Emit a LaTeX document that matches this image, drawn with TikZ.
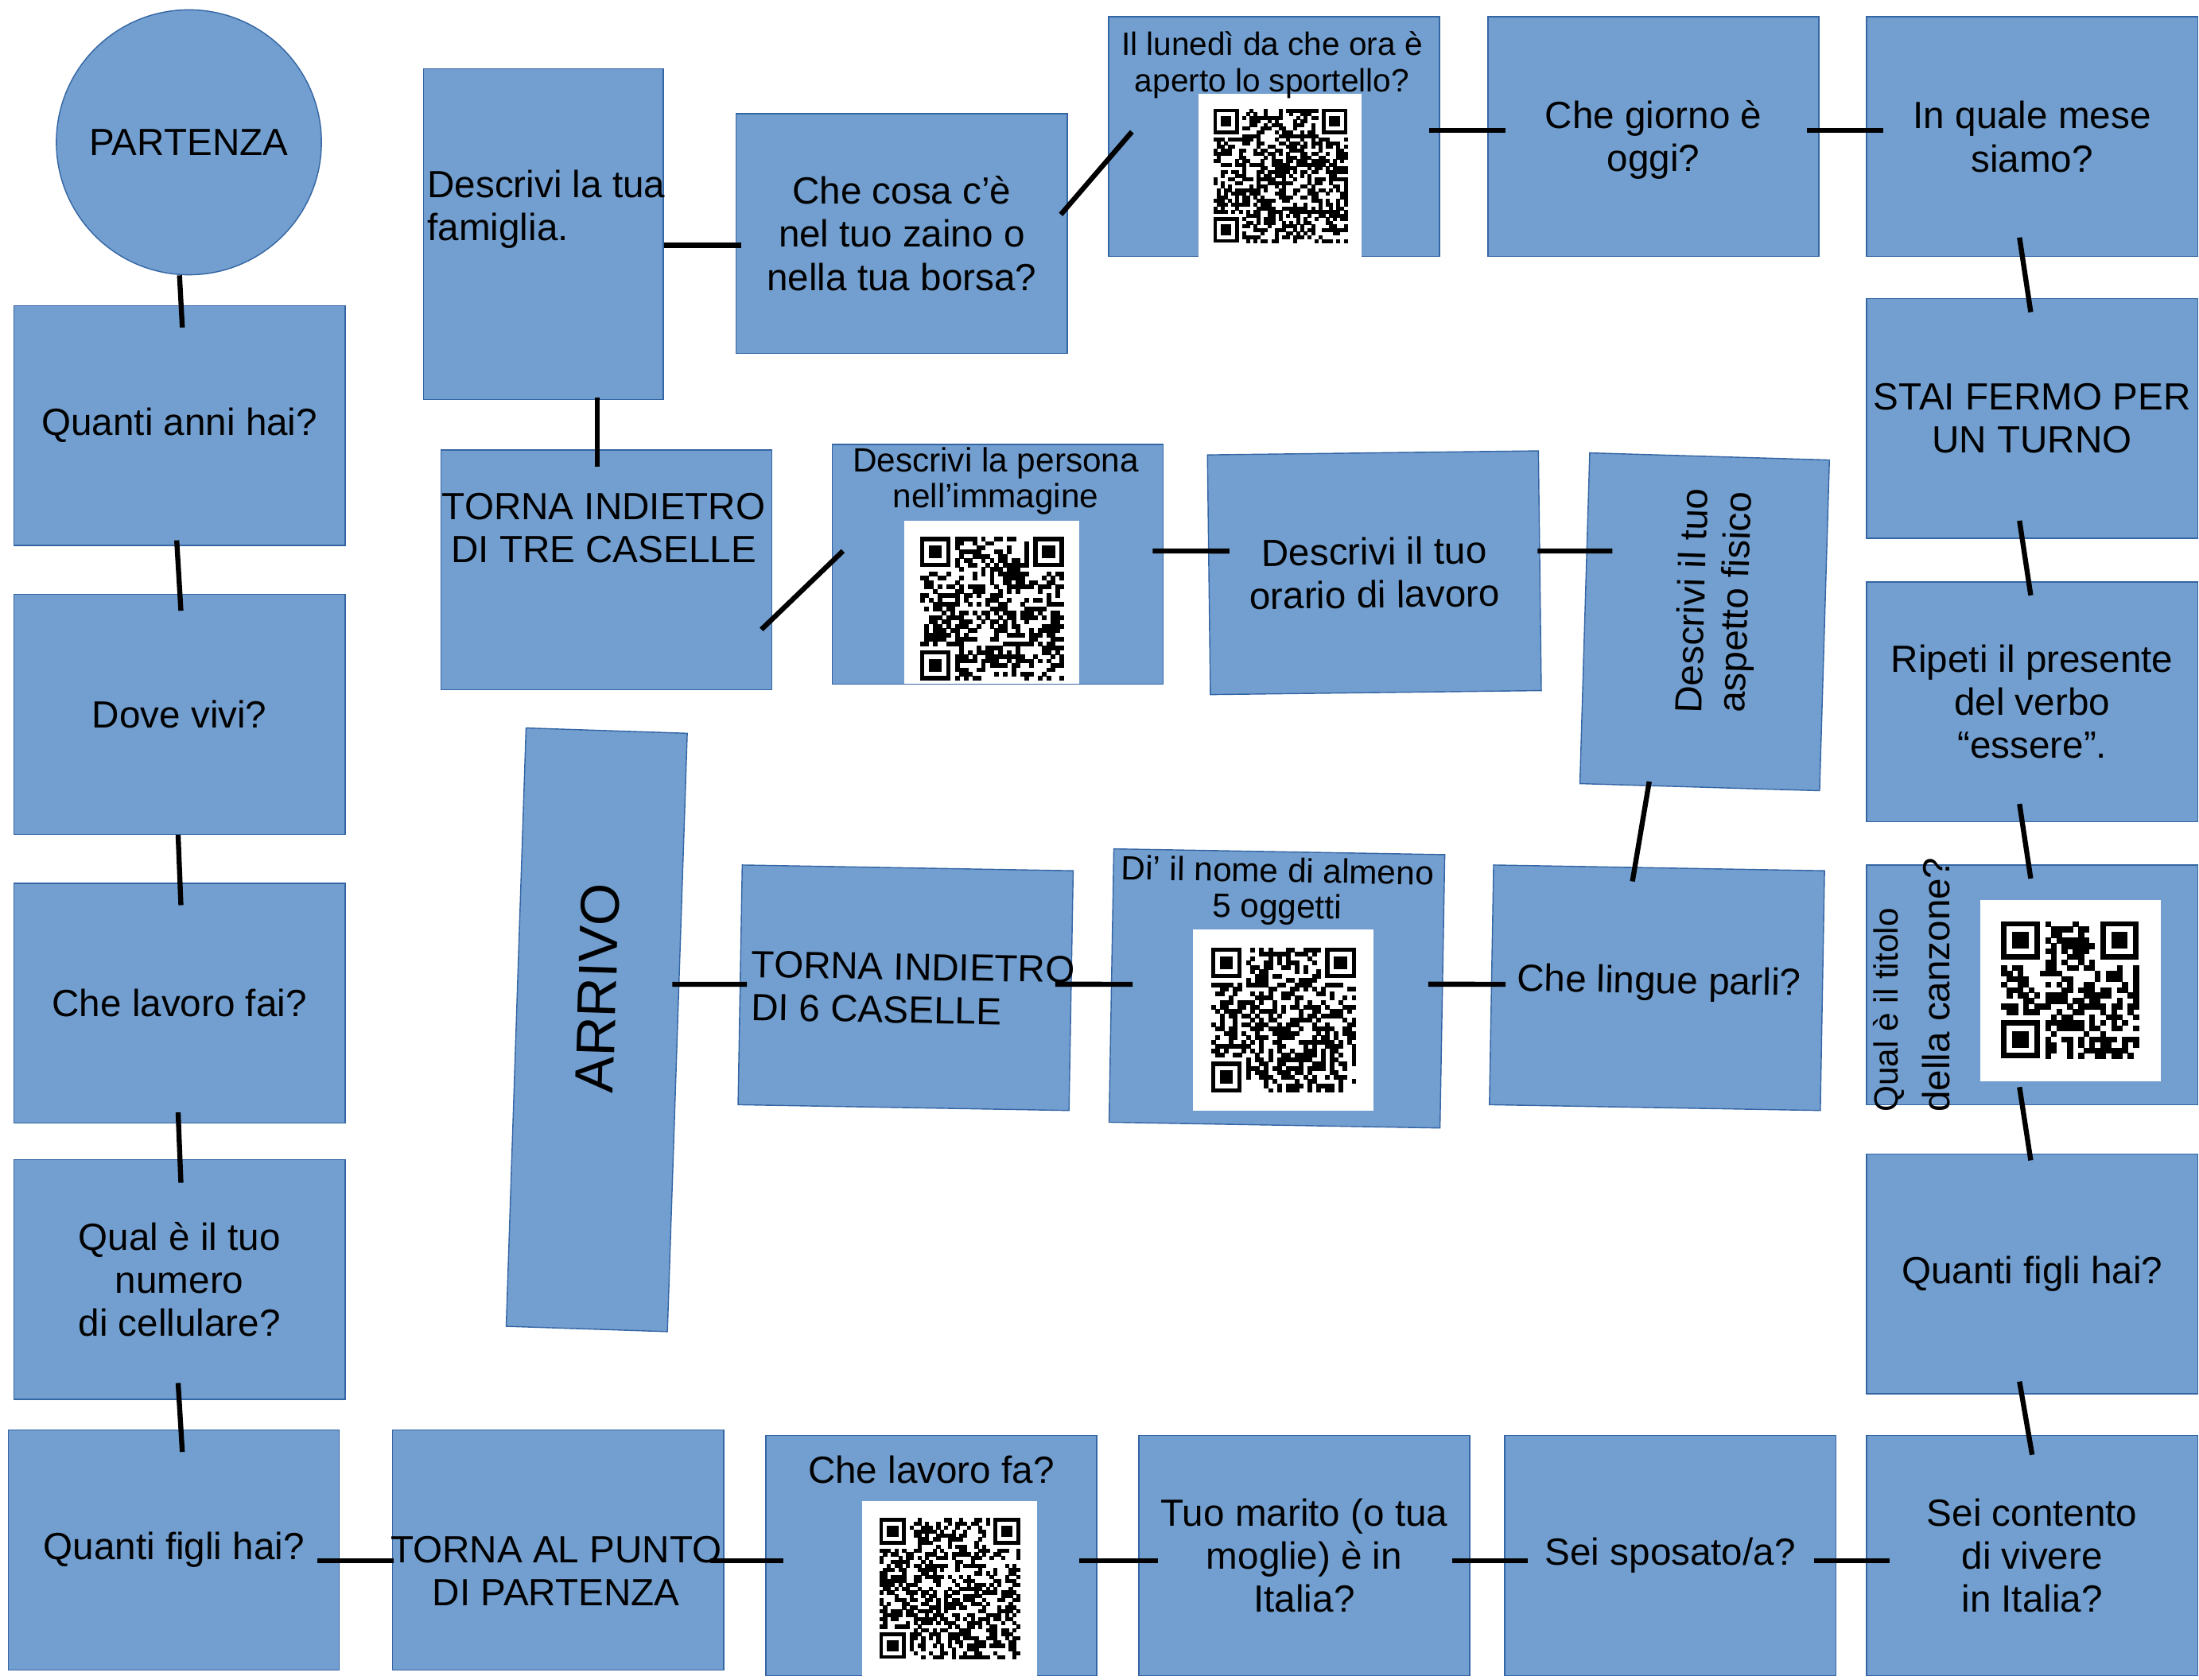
\documentclass[tikz,border=0pt]{standalone}
\usepackage{fontspec}
\setmainfont{Liberation Sans}
\usepackage{tikz}
\usetikzlibrary{positioning,calc}

\definecolor{boxfill}{HTML}{729FCF}
\definecolor{boxedge}{HTML}{3465A4}

% random QR-like patch: left, top, size, modules, seed
\newcommand\qrpatch[5]{%
  \pgfmathsetseed{#5}%
  \pgfmathsetmacro\qrm{#3/#4}%
  \pgfmathtruncatemacro\qrn{#4-1}%
  \foreach \i in {0,...,\qrn}{
    \foreach \j in {0,...,\qrn}{
      \pgfmathtruncatemacro\qrbit{(rnd<0.5)&&!(((\i<8)&&(\j<8))||((\i>\qrn-8)&&(\j<8))||((\i<8)&&(\j>\qrn-8)))}
      \ifnum\qrbit=1
        \fill (#1+\i*\qrm,#2+\j*\qrm) rectangle ++(\qrm+0.25,\qrm+0.25);
      \fi
    }
  }
  \foreach \fx/\fy in {0/0,1/0,0/1}{
    \pgfmathsetmacro\qrx{#1+\fx*(#4-7)*\qrm}
    \pgfmathsetmacro\qry{#2+\fy*(#4-7)*\qrm}
    \fill (\qrx,\qry) rectangle ++(7*\qrm,7*\qrm);
    \fill[white] (\qrx+\qrm,\qry+\qrm) rectangle ++(5*\qrm,5*\qrm);
    \fill (\qrx+2*\qrm,\qry+2*\qrm) rectangle ++(3*\qrm,3*\qrm);
  }
}

\tikzset{
  box/.style={draw=boxedge, fill=boxfill, line width=0.8pt, minimum width=236pt, minimum height=171pt,
    inner sep=0pt, align=center, font=\fontsize{27pt}{30.7pt}\selectfont},
  tall/.style={box, minimum width=171pt, minimum height=236pt},
  lab/.style={inner sep=0pt, align=center, font=\fontsize{27pt}{30.7pt}\selectfont},
  small/.style={lab, font=\fontsize{24pt}{25.5pt}\selectfont},
  link/.style={line width=3.6pt},
}

\begin{document}
\begin{tikzpicture}[x=1pt,y=-1pt]
  \useasboundingbox (0,0) rectangle (1568,1198);

  % left column
  \node[box, circle, minimum size=189pt] (partenza) at (134.7,101.5) {PARTENZA};
  \node[box] (anni) at (128,303.5) {Quanti anni hai?};
  \node[box] (dove) at (128,509.5) {Dove vivi?};
  \node[box] (lavoro) at (128,715.5) {Che lavoro fai?};
  \node[box] (cell) at (128,912.5) {Qual è il tuo\\numero\\di cellulare?};
  \node[box] (figli) at (124,1105.5) {Quanti figli hai?};

  % bottom row
  \node[box] (punto) at (398,1105.5) {};
  \node[box] (lavorofa) at (664,1109.5) {};
  \node[box] (marito) at (930,1109.5) {Tuo marito (o tua\\moglie) è in\\Italia?};
  \node[box] (sposato) at (1191,1109.5) {Sei sposato/a?};
  \node[box] (contento) at (1449,1109.5) {Sei contento\\di vivere\\in Italia?};

  % right column
  \node[box] (figlidue) at (1449,908.5) {Quanti figli hai?};
  \node[box] (titolo) at (1449,702.5) {};
  \node[box] (ripeti) at (1449,500.5) {Ripeti il presente\\del verbo\\“essere”.};
  \node[box] (fermo) at (1449,298.5) {STAI FERMO PER\\UN TURNO};
  \node[box] (mese) at (1449,97.5) {In quale mese\\siamo?};

  % top row
  \node[box] (giorno) at (1179,97.5) {};
  \node[box] (lunedi) at (908.5,97.5) {};
  \node[box] (zaino) at (643,166.5) {Che cosa c’è\\nel tuo zaino o\\nella tua borsa?};
  \node[tall] (famiglia) at (387.5,167) {};

  % middle rows
  \node[box] (tre) at (432.5,406.5) {};
  \node[box] (persona) at (711.5,402.5) {};
  \node[box, rotate=0.7] (orario) at (980,408.5) {Descrivi il tuo\\orario di lavoro};
  \node[box, rotate=88.3] (aspetto) at (1215.5,443.5) {};
  \node[box, rotate=88.1, minimum width=427pt, minimum height=115pt] (arrivo) at (425.5,734.5) {};
  \node[box, rotate=-1] (seicaselle) at (645.75,704.5) {};
  \node[box, rotate=-1, minimum height=195pt] (nome) at (910.5,705) {};
  \node[box, rotate=-1] (lingue) at (1181.5,704.5) {};

  % qr codes
  \fill[white] (854.6,66.7) rectangle (970.9,183);
  \qrpatch{865.2}{77.5}{95.5}{37}{11}
  \fill[white] (644.8,371.5) rectangle (769.6,487.7);
  \qrpatch{656}{382.8}{102.6}{33}{23}
  \fill[white] (850.6,663) rectangle (979.4,792);
  \qrpatch{863.5}{675.8}{103.4}{33}{37}
  \fill[white] (614.7,1070.5) rectangle (739.3,1195.5);
  \qrpatch{627}{1082.8}{100.4}{37}{41}
  \fill[white] (1412,642) rectangle (1541,771);
  \qrpatch{1427}{657}{98}{25}{53}

  % texts set off the centre
  \node[lab, below=76pt of punto.north, xshift=-1.5pt] (puntotxt) {TORNA AL PUNTO\\DI PARTENZA};
  \node[lab, below=14.5pt of lavorofa.north] (lavorofatxt) {Che lavoro fa?};
  \node[lab, below=60pt of giorno.north] (giornotxt) {Che giorno è\\oggi?};
  \node[lab, font=\fontsize{23pt}{26pt}\selectfont, below=10.5pt of lunedi.north, xshift=-1.5pt] (lunedittxt) {Il lunedì da che ora è\\aperto lo sportello?};
  \node[lab, align=left, below right=72.5pt and 3pt of famiglia.north west] (famigliatxt) {Descrivi la tua\\famiglia.};
  \node[lab, below=30.7pt of tre.north, xshift=-2pt] (tretxt) {TORNA INDIETRO\\DI TRE CASELLE};
  \node[small, below=2.5pt of persona.north, xshift=-1.5pt] (personatxt) {Descrivi la persona\\nell’immagine};
  \node[lab, rotate=88.3, font=\fontsize{27pt}{31pt}\selectfont] (aspettotxt) at ($(aspetto)+(8.5,-14.5)$) {Descrivi il tuo\\aspetto fisico};
  \node[lab, rotate=88.1, font=\fontsize{39pt}{45pt}\selectfont] (arrivotxt) at ($(arrivo)+(0.5,-29.5)$) {ARRIVO};
  \node[lab, align=left, anchor=west, rotate=-1] (seitxt) at ($(seicaselle.west)+(8.2,0.6)$) {TORNA INDIETRO\\DI 6 CASELLE};
  \node[small, anchor=north, rotate=-1] (nometxt) at ($(nome.north)+(-1,4.5)$) {Di’ il nome di almeno\\5 oggetti};
  \node[lab, rotate=-1] (linguetxt) at ($(lingue)+(1.5,-3)$) {Che lingue parli?};
  \node[lab, align=left, anchor=north west, rotate=90, font=\fontsize{27pt}{32pt}\selectfont] (titolotxt)
    at ($(titolo.south west)+(5,5)$) {{\fontsize{24pt}{28pt}\selectfont Qual è il titolo}\\[5pt]della canzone?};

  % links
  \draw[link] ($(partenza.south)+(-6.7,0)$) -- ($(anni.north)+(2,16)$);
  \draw[link] ($(anni.south)+(-2,-4)$) -- ($(dove.north)+(1,12)$);
  \draw[link] ($(dove.south)+(-1,0)$) -- ($(lavoro.north)+(1,16)$);
  \draw[link] ($(lavoro.south)+(-1,-8)$) -- ($(cell.north)+(1,17)$);
  \draw[link] ($(cell.south)+(-1,-12)$) -- ($(figli.north)+(6,16)$);
  \draw[link] ($(figli.east)+(-16,7.5)$) -- ($(punto.west)+(1,7.5)$);
  \draw[link] ($(punto.east)+(-10,7.5)$) -- ($(lavorofa.west)+(13,3.5)$);
  \draw[link] ($(lavorofa.east)+(-13,3.5)$) -- ($(marito.west)+(14,3.5)$);
  \draw[link] ($(marito.east)+(-13,3.5)$) -- ($(sposato.west)+(17,3.5)$);
  \draw[link] ($(sposato.east)+(-16,3.5)$) -- ($(contento.west)+(17,3.5)$);
  \draw[link] ($(contento.north)+(0,14)$) -- ($(figlidue.south)+(-9,-9)$);
  \draw[link] ($(figlidue.north)+(-1,5)$) -- ($(titolo.south)+(-9,-13)$);
  \draw[link] ($(titolo.north)+(-1,10)$) -- ($(ripeti.south)+(-9,-13)$);
  \draw[link] ($(ripeti.north)+(-1,10)$) -- ($(fermo.south)+(-9,-13)$);
  \draw[link] ($(fermo.north)+(-1,10)$) -- ($(mese.south)+(-9,-14)$);
  \draw[link] ($(mese.west)+(12,-4.5)$) -- ($(giorno.east)+(-9,-4.5)$);
  \draw[link] ($(giorno.west)+(13,-4.5)$) -- ($(lunedi.east)+(-8,-4.5)$);
  \draw[link] ($(lunedi.west)+(17,-3.5)$) -- ($(zaino.east)+(-5,-13.5)$);
  \draw[link] ($(zaino.west)+(4,8.5)$) -- ($(famiglia.east)+(0,8)$);
  \draw[link] ($(famiglia.south)+(38.5,-2)$) -- ($(tre.north)+(-6.5,12)$);
  \draw[link] ($(tre.east)+(-8,42.5)$) -- ($(persona.west)+(8,-9.5)$);
  \draw[link] ($(persona.east)+(-8,-9.5)$) -- ($(orario.west)+(15,-16.9)$);
  \draw[link] ($(orario.east)+(-2,-14.1)$) -- ($(aspetto.north)+(20,-48)$);
  \draw[link] ($(aspetto.west)+(-36,-4.4)$) -- ($(lingue.north)+(-19,10)$);
  \draw[link] ($(lingue.west)+(10.5,-0.4)$) -- ($(nome.east)+(-10.5,-5.1)$);
  \draw[link] ($(nome.west)+(15.5,-0.9)$) -- ($(seicaselle.east)+(-11.7,-4.6)$);
  \draw[link] ($(seicaselle.west)+(5.2,-0.4)$) -- ($(arrivo.south)+(-4,-34.4)$);
\end{tikzpicture}
\end{document}
